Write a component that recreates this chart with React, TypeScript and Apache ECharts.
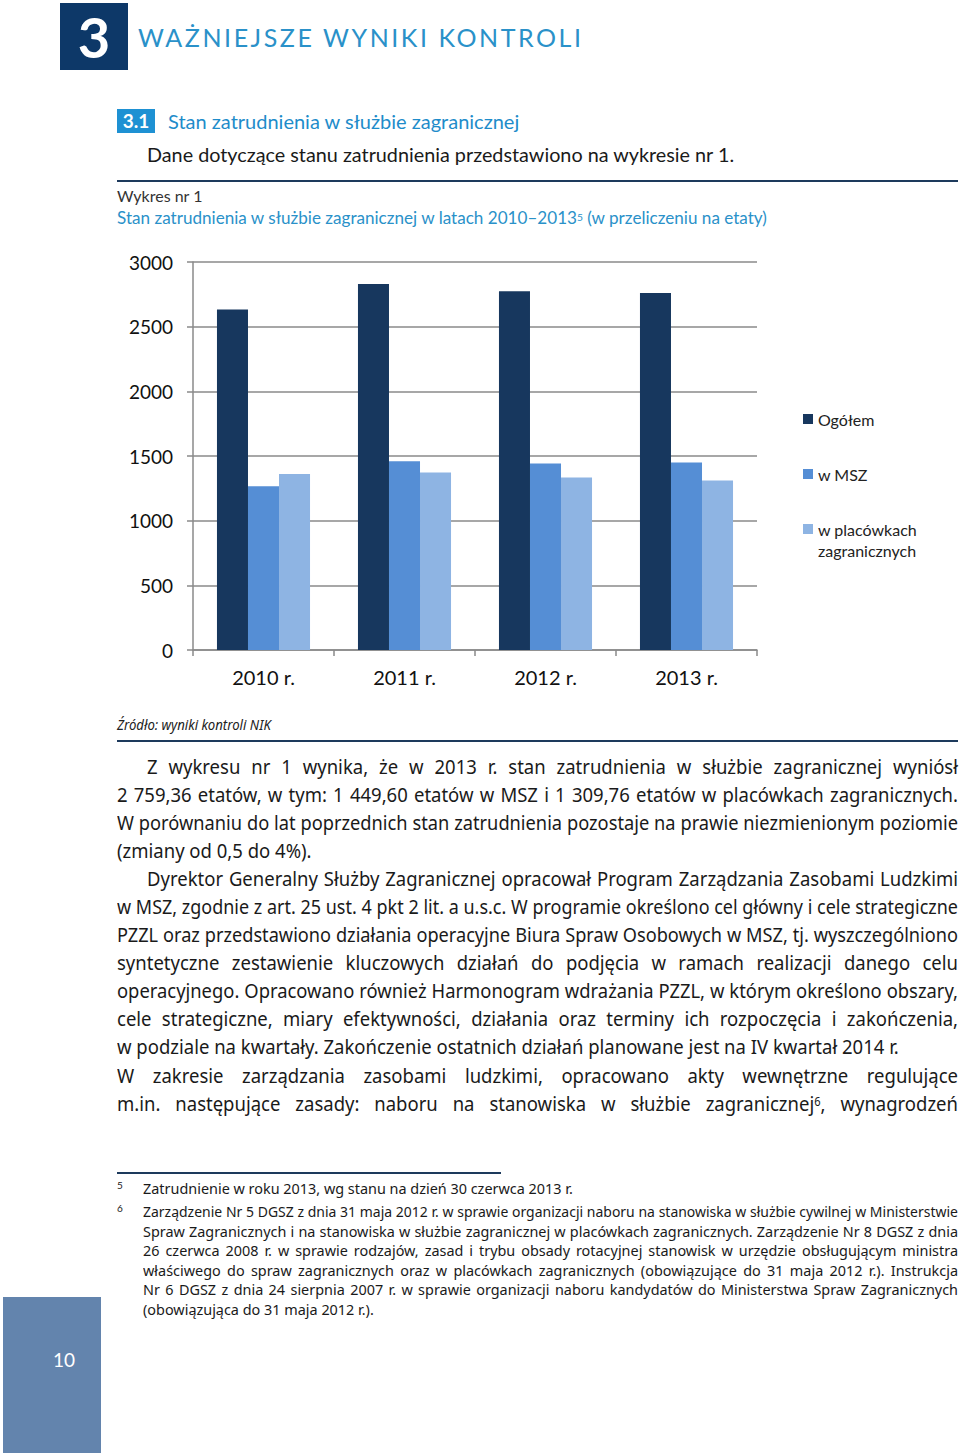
import React, { useEffect, useLayoutEffect, useRef, useState } from "react";
import * as echarts from "echarts";

const categories = ["2010 r.", "2011 r.", "2012 r.", "2013 r."];
const seriesNames = ["Ogółem", "w MSZ", "w placówkach zagranicznych"];
const ogolem = [2632, 2830, 2774, 2759.36];
const wMsz = [1267, 1460, 1442, 1449.6];
const wPlacowkach = [1360, 1373, 1334, 1309.76];
const yTicks = { min: 0, max: 3000, interval: 500 };
const colors = ["#17375e", "#558ed5", "#8eb4e3"];

const sup = (n: string) => (
  <sup style={{ fontSize: "60%", verticalAlign: "top", position: "relative", top: -2 }}>{n}</sup>
);

const bodyLines: { text: React.ReactNode; top: number; left: number; justify: boolean }[] = [
  { text: "Z wykresu nr 1 wynika, że w 2013 r. stan zatrudnienia w służbie zagranicznej wyniósł", top: 767, left: 147, justify: true },
  { text: "2 759,36 etatów, w tym: 1 449,60 etatów w MSZ i 1 309,76 etatów w placówkach zagranicznych.", top: 795, left: 117, justify: true },
  { text: "W porównaniu do lat poprzednich stan zatrudnienia pozostaje na prawie niezmienionym poziomie", top: 823, left: 117, justify: true },
  { text: "(zmiany od 0,5 do 4%).", top: 851, left: 117, justify: false },
  { text: "Dyrektor Generalny Służby Zagranicznej opracował Program Zarządzania Zasobami Ludzkimi", top: 879, left: 147, justify: true },
  { text: "w MSZ, zgodnie z art. 25 ust. 4 pkt 2 lit. a u.s.c. W programie określono cel główny i cele strategiczne", top: 907, left: 117, justify: true },
  { text: "PZZL oraz przedstawiono działania operacyjne Biura Spraw Osobowych w MSZ, tj. wyszczególniono", top: 935, left: 117, justify: true },
  { text: "syntetyczne zestawienie kluczowych działań do podjęcia w ramach realizacji danego celu", top: 963, left: 117, justify: true },
  { text: "operacyjnego. Opracowano również Harmonogram wdrażania PZZL, w którym określono obszary,", top: 991, left: 117, justify: true },
  { text: "cele strategiczne, miary efektywności, działania oraz terminy ich rozpoczęcia i zakończenia,", top: 1019, left: 117, justify: true },
  { text: "w podziale na kwartały. Zakończenie ostatnich działań planowane jest na IV kwartał 2014 r.", top: 1047, left: 117, justify: false },
  { text: "W zakresie zarządzania zasobami ludzkimi, opracowano akty wewnętrzne regulujące", top: 1076, left: 117, justify: true },
  { text: <>m.in. następujące zasady: naboru na stanowiska w służbie zagranicznej{sup("6")}, wynagrodzeń</>, top: 1104, left: 117, justify: true },
];

const footLines: { num?: string; text: string; top: number; justify: boolean }[] = [
  { num: "5", text: "Zatrudnienie w roku 2013, wg stanu na dzień 30 czerwca 2013 r.", top: 1188, justify: false },
  { num: "6", text: "Zarządzenie Nr 5 DGSZ z dnia 31 maja 2012 r. w sprawie organizacji naboru na stanowiska w służbie cywilnej w Ministerstwie", top: 1211, justify: true },
  { text: "Spraw Zagranicznych i na stanowiska w służbie zagranicznej w placówkach zagranicznych. Zarządzenie Nr 8 DGSZ z dnia", top: 1231, justify: true },
  { text: "26 czerwca 2008 r. w sprawie rodzajów, zasad i trybu obsady rotacyjnej stanowisk w urzędzie obsługującym ministra", top: 1250, justify: true },
  { text: "właściwego do spraw zagranicznych oraz w placówkach zagranicznych (obowiązujące do 31 maja 2012 r.). Instrukcja", top: 1270, justify: true },
  { text: "Nr 6 DGSZ z dnia 24 sierpnia 2007 r. w sprawie organizacji naboru kandydatów do Ministerstwa Spraw Zagranicznych", top: 1289, justify: true },
  { text: "(obowiązująca do 31 maja 2012 r.).", top: 1309, justify: false },
];

const condensed = '"Noto Sans", "Open Sans", sans-serif';
const humanist = 'Lato, "Noto Sans", sans-serif';

function FitLine(props: {
  left: number;
  top: number;
  width: number;
  justify: boolean;
  base: number;
  style: React.CSSProperties;
  children: React.ReactNode;
}) {
  const { left, top, width, justify, base, style, children } = props;
  const measure = useRef<HTMLSpanElement>(null);
  const [s, setS] = useState(base);
  useLayoutEffect(() => {
    if (!measure.current) return;
    const nat = measure.current.offsetWidth;
    if (nat > 0) setS(Math.min(base, (width - 2) / nat));
  }, [base, width]);
  const common: React.CSSProperties = {
    whiteSpace: "nowrap",
    fontFamily: condensed,
    color: "#1a1a1a",
    ...style,
  };
  return (
    <>
      <span ref={measure} aria-hidden style={{ ...common, position: "absolute", left: 0, top: 0, visibility: "hidden" }}>
        {children}
      </span>
      <div
        style={{
          ...common,
          position: "absolute",
          left,
          top,
          width: justify ? width / s : undefined,
          transform: `scaleX(${s})`,
          transformOrigin: "0 0",
          textAlign: justify ? "justify" : "left",
          textAlignLast: justify ? "justify" : "left",
        }}
      >
        {children}
      </div>
    </>
  );
}

function Chart() {
  const ref = useRef<HTMLDivElement>(null);
  useEffect(() => {
    if (!ref.current) return;
    const chart = echarts.init(ref.current, null, { renderer: "svg" });
    const legendBase = {
      orient: "horizontal" as const,
      left: 703,
      padding: 0,
      itemWidth: 10,
      itemHeight: 10,
      icon: "rect",
      selectedMode: false,
      textStyle: { fontFamily: humanist, fontSize: 16, color: "#222", lineHeight: 20 },
    };
    chart.setOption({
      animation: false,
      color: colors,
      grid: { left: 93, top: 22, width: 564, height: 388 },
      legend: [
        { ...legendBase, top: 169, data: [seriesNames[0]] },
        { ...legendBase, top: 224, data: [seriesNames[1]] },
        { ...legendBase, top: 279, data: [seriesNames[2]], formatter: () => "w placówkach" },
      ],
      graphic: [
        {
          type: "text",
          left: 718,
          top: 302,
          style: { text: "zagranicznych", font: `16px ${humanist}`, fill: "#222" },
        },
      ],
      xAxis: {
        type: "category",
        data: categories,
        axisLine: { lineStyle: { color: "#8a8a8a", width: 1.5 } },
        axisTick: { show: true, length: 6, lineStyle: { color: "#8a8a8a", width: 1.5 } },
        axisLabel: { fontFamily: humanist, fontSize: 20, color: "#111", margin: 17 },
      },
      yAxis: {
        type: "value",
        min: yTicks.min,
        max: yTicks.max,
        interval: yTicks.interval,
        axisLine: { show: true, lineStyle: { color: "#8a8a8a", width: 1.5 } },
        axisTick: { show: true, length: 6, lineStyle: { color: "#8a8a8a", width: 1.5 } },
        splitLine: { lineStyle: { color: "#8a8a8a", width: 1.5 } },
        axisLabel: { fontFamily: humanist, fontSize: 19, color: "#111", margin: 20, formatter: (v: number) => String(v) },
      },
      series: [
        { name: seriesNames[0], type: "bar", data: ogolem, barGap: "0%", barCategoryGap: "34%" },
        { name: seriesNames[1], type: "bar", data: wMsz, barGap: "0%", barCategoryGap: "34%" },
        { name: seriesNames[2], type: "bar", data: wPlacowkach, barGap: "0%", barCategoryGap: "34%" },
      ],
    });
    return () => chart.dispose();
  }, []);
  return <div ref={ref} style={{ position: "absolute", left: 100, top: 240, width: 860, height: 470 }} />;
}

export default function App() {
  const abs = (s: React.CSSProperties): React.CSSProperties => ({ position: "absolute", ...s });
  return (
    <div style={{ position: "absolute", left: 0, top: 0, width: 960, height: 1453, background: "#fff", overflow: "hidden", fontFamily: humanist, color: "#1a1a1a" }}>
      {/* header */}
      <div style={abs({ left: 60, top: 3, width: 68, height: 67, background: "#0d3868", color: "#fff", fontSize: 56, fontWeight: 700, lineHeight: "67px", textAlign: "center" })}>3</div>
      <div style={abs({ left: 138, top: 20, fontSize: 25, letterSpacing: 2.55, color: "#2a91c9", lineHeight: "34px", whiteSpace: "nowrap" })}>WAŻNIEJSZE WYNIKI KONTROLI</div>

      <div style={abs({ left: 117, top: 109, width: 38, height: 24, background: "#1e91d3", color: "#fff", fontSize: 19, fontWeight: 700, lineHeight: "24px", textAlign: "center" })}>3.1</div>
      <div style={abs({ left: 168, top: 107, fontSize: 20, color: "#1e8cca", lineHeight: "28px", whiteSpace: "nowrap" })}>Stan zatrudnienia w służbie zagranicznej</div>
      <div style={abs({ left: 147, top: 140, fontSize: 19.8, color: "#1a1a1a", lineHeight: "28px", whiteSpace: "nowrap" })}>Dane dotyczące stanu zatrudnienia przedstawiono na wykresie nr 1.</div>

      <div style={abs({ left: 117, top: 180, width: 841, height: 2, background: "#1d3a5c" })} />
      <div style={abs({ left: 117, top: 185, fontSize: 16, color: "#333", lineHeight: "22px", whiteSpace: "nowrap" })}>Wykres nr 1</div>
      <div style={abs({ left: 117, top: 207, fontSize: 17.1, color: "#2a91c9", lineHeight: "22px", whiteSpace: "nowrap" })}>
        Stan zatrudnienia w służbie zagranicznej w latach 2010–2013<sup style={{ fontSize: "60%", verticalAlign: "top", position: "relative", top: -1 }}>5</sup> (w przeliczeniu na etaty)
      </div>

      <Chart />

      <FitLine left={117} top={715} width={300} justify={false} base={0.94} style={{ fontSize: 14, fontStyle: "italic", color: "#222", lineHeight: "20px" }}>
        Źródło: wyniki kontroli NIK
      </FitLine>
      <div style={abs({ left: 117, top: 740, width: 841, height: 2, background: "#1d3a5c" })} />

      {bodyLines.map((l, i) => (
        <FitLine key={i} left={l.left} top={l.top - 14} width={958 - l.left} justify={l.justify} base={0.925} style={{ fontSize: 20, lineHeight: "28px" }}>
          {l.text}
        </FitLine>
      ))}

      <div style={abs({ left: 117, top: 1172, width: 384, height: 2, background: "#1d3a5c" })} />
      {footLines.map((l, i) => (
        <React.Fragment key={i}>
          {l.num && <div style={abs({ left: 117, top: l.top - 13, fontSize: 10, lineHeight: "20px", fontFamily: humanist, color: "#1a1a1a" })}>{l.num}</div>}
          <FitLine left={143} top={l.top - 10} width={815} justify={l.justify} base={0.974} style={{ fontSize: 14.8, lineHeight: "20px" }}>
            {l.text}
          </FitLine>
        </React.Fragment>
      ))}

      <div style={abs({ left: 3, top: 1297, width: 98, height: 156, background: "#6384ad" })} />
      <div style={abs({ left: 53, top: 1347, fontSize: 19, color: "#fff", lineHeight: "26px" })}>10</div>
    </div>
  );
}
